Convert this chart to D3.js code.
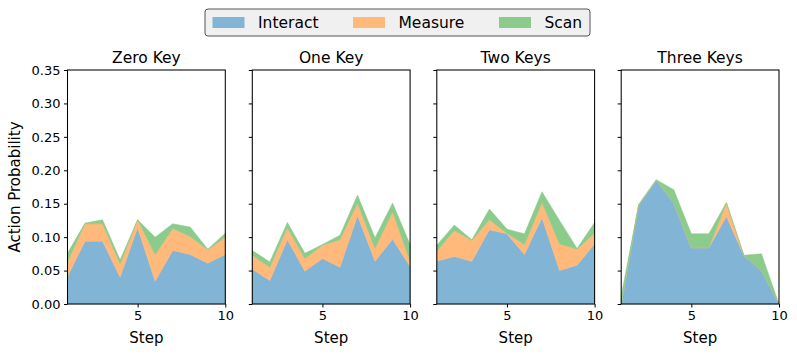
<!DOCTYPE html>
<html><head><meta charset="utf-8">
<script src="https://cdn.jsdelivr.net/npm/d3@7"></script>
<style>body{margin:0;background:#fff}text{font-family:"DejaVu Sans",sans-serif;fill:#000}</style>
</head><body><svg id="c" width="797" height="355"></svg>
<script>
const steps = [1,2,3,4,5,6,7,8,9,10];
const seriesNames = ["Interact","Measure","Scan"];
const colors = ["#82b4d6","#ffb97a","#8bcb8b"];
const panelTitles = ["Zero Key","One Key","Two Keys","Three Keys"];
const yTicks = [0,0.05,0.10,0.15,0.20,0.25,0.30,0.35];
const xTicks = [5,10];

const interactVals = [
  [0.041,0.094,0.094,0.040,0.114,0.034,0.080,0.074,0.061,0.074],
  [0.052,0.035,0.096,0.049,0.068,0.055,0.132,0.064,0.097,0.056],
  [0.064,0.071,0.064,0.111,0.105,0.074,0.129,0.050,0.058,0.090],
  [0.000,0.148,0.185,0.151,0.084,0.084,0.131,0.072,0.050,0.000]
];
const measureVals = [
  [0.022,0.026,0.026,0.020,0.012,0.040,0.033,0.027,0.020,0.026],
  [0.021,0.020,0.018,0.019,0.020,0.041,0.019,0.019,0.041,0.008],
  [0.015,0.039,0.031,0.015,0.001,0.015,0.023,0.040,0.024,0.016],
  [0.000,0.000,0.000,0.000,0.000,0.000,0.020,0.000,0.000,0.000]
];
const scanVals = [
  [0.013,0.001,0.006,0.006,0.000,0.026,0.007,0.014,0.001,0.006],
  [0.007,0.008,0.008,0.008,0.001,0.007,0.012,0.016,0.013,0.025],
  [0.009,0.008,0.001,0.016,0.006,0.016,0.016,0.035,0.001,0.016],
  [0.012,0.001,0.001,0.020,0.021,0.021,0.001,0.001,0.025,0.000]
];

const svg = d3.select("#c");
const panelLeft = [67.5,252.3,436.8,621.2];
const pw = 157.8, plotTop = 70, plotBottom = 304;
const y = d3.scaleLinear().domain([0,0.35]).range([plotBottom, plotTop]);

panelTitles.forEach((title, p) => {
  const x = d3.scaleLinear().domain([1,10]).range([panelLeft[p], panelLeft[p]+pw]);
  const rows = steps.map((s,i) => ({step:s, Interact:interactVals[p][i], Measure:measureVals[p][i], Scan:scanVals[p][i]}));
  const stacked = d3.stack().keys(seriesNames)(rows);
  const area = d3.area().x(d => x(d.data.step)).y0(d => y(d[0])).y1(d => y(d[1]));
  const g = svg.append("g");
  stacked.forEach((s, k) => {
    g.append("path").attr("d", area(s)).attr("fill", colors[k]).attr("stroke", colors[k]).attr("stroke-width", 0.5);
  });
  const ya = g.append("g").attr("transform", `translate(${panelLeft[p]},0)`)
    .call(d3.axisLeft(y).tickValues(yTicks).tickSize(3.5).tickPadding(3.5).tickFormat(p === 0 ? d3.format(".2f") : () => ""));
  const xa = g.append("g").attr("transform", `translate(0,${plotBottom})`)
    .call(d3.axisBottom(x).tickValues(xTicks).tickSize(3.5).tickPadding(3.5));
  [ya, xa].forEach(a => {
    a.select(".domain").remove();
    a.selectAll("line").attr("stroke", "#000").attr("stroke-width", 1);
    a.selectAll("text").attr("font-size", 13).attr("font-family", "DejaVu Sans").attr("fill", "#000");
  });
  g.append("rect").attr("x", panelLeft[p]).attr("y", plotTop).attr("width", pw).attr("height", plotBottom-plotTop)
    .attr("fill", "none").attr("stroke", "#000").attr("stroke-width", 1.05);
  g.append("text").attr("x", panelLeft[p]+pw/2).attr("y", 63).attr("text-anchor", "middle")
    .attr("font-size", 15.5).text(title);
  g.append("text").attr("x", panelLeft[p]+pw/2).attr("y", 343).attr("text-anchor", "middle")
    .attr("font-size", 15).text("Step");
});

svg.append("text").attr("transform", `translate(20,${(plotTop+plotBottom)/2}) rotate(-90)`)
  .attr("text-anchor", "middle").attr("font-size", 15).text("Action Probability");

const lg = svg.append("g");
lg.append("rect").attr("x", 205).attr("y", 9).attr("width", 385).attr("height", 27).attr("rx", 3)
  .attr("fill", "#f0f0f0").attr("stroke", "#555").attr("stroke-width", 1);
const legX = [212.5, 353, 499];
seriesNames.forEach((n, k) => {
  lg.append("rect").attr("x", legX[k]).attr("y", 17).attr("width", 32).attr("height", 11).attr("fill", colors[k]);
  lg.append("text").attr("x", legX[k]+45.5).attr("y", 28).attr("font-size", 15.5).text(n);
});
</script></body></html>
